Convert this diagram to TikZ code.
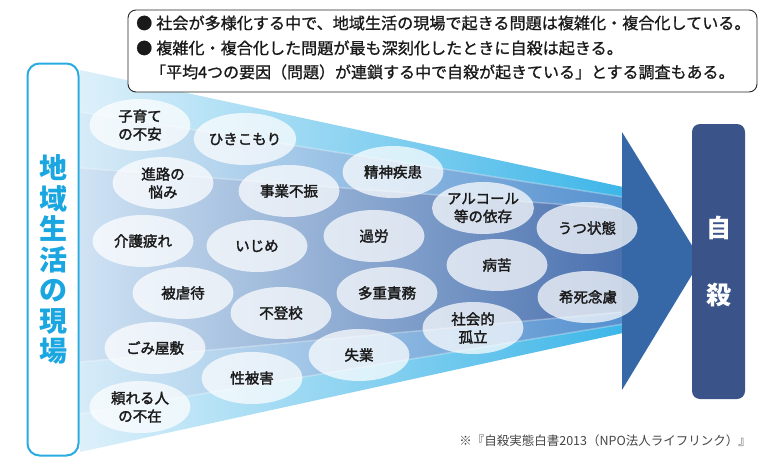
\documentclass[tikz,border=0pt]{standalone}
\usepackage{fontspec}
\setmainfont{Noto Sans CJK JP}
\newfontfamily\bubfont{Noto Sans CJK JP}[FakeBold=2]
\newfontfamily\notefont{Noto Sans CJK JP}[FakeBold=1]
\usetikzlibrary{shapes.geometric}
\definecolor{funL}{HTML}{DDF0FA}
\definecolor{funR}{HTML}{3DB6E8}
\definecolor{midL}{HTML}{D6ECF8}
\definecolor{midR}{HTML}{5590CF}
\definecolor{inL}{HTML}{CFE3F4}
\definecolor{inR}{HTML}{4A70AE}
\definecolor{arrowc}{HTML}{3668A8}
\definecolor{navy}{HTML}{3A548A}
\definecolor{cyanline}{HTML}{29ABE2}
\definecolor{cyantext}{HTML}{1AA6E0}
\definecolor{txt}{HTML}{1A1A1A}
\definecolor{foot}{HTML}{444444}
\begin{document}
\begin{tikzpicture}[x=1pt,y=-1pt,
  bub/.style={ellipse, fill=white, fill opacity=0.72, text opacity=1,
    minimum width=101pt, minimum height=52pt, inner sep=0pt, align=center,
    font=\bubfont\fontsize{14.5}{18}\selectfont, text=txt},
  notetext/.style={anchor=west, inner sep=0pt, font=\notefont\fontsize{16.1}{18}\selectfont, text=txt},
  pillbox/.style={draw=cyanline, line width=2pt, rounded corners=12pt, fill=white,
    minimum width=51pt, minimum height=392pt, inner sep=0pt, align=center,
    font=\fontsize{28}{30.5}\selectfont\bfseries, text=cyantext},
  endbox/.style={fill=navy, rounded corners=8pt, minimum width=53pt, minimum height=275pt,
    inner sep=0pt, align=center, font=\fontsize{25}{67}\selectfont\bfseries, text=white},
  streak/.style={white, opacity=0.3, line width=1.5pt}
]
\useasboundingbox (0,0) rectangle (769,458);
% funnel body
\shade[left color=funL, right color=funR] (80,70) -- (623,187) -- (623,333) -- (80,452) -- cycle;
\shade[left color=midL, right color=midR] (80,112) -- (623,197) -- (623,324) -- (80,414) -- cycle;
\shade[left color=inL, right color=inR] (80,168) -- (623,209) -- (623,312) -- (80,362) -- cycle;
\draw[streak] (80,112) -- (623,197);
\draw[streak] (80,414) -- (623,324);
\draw[streak] (80,168) -- (623,209);
\draw[streak] (80,362) -- (623,312);
% arrow head
\fill[arrowc] (622,132) -- (701,260) -- (622,390) -- cycle;
% left pill
\node[pillbox] (genba) at (53,259.5) {地\\域\\生\\活\\の\\現\\場};
% end box
\node[endbox] (jisatsu) at (718.5,261.5) {自\\殺};
% note box
\node[draw=black!85, line width=0.9pt, rounded corners=8pt, fill=white,
  minimum width=629pt, minimum height=82pt] (note) at (442.5,51) {};
\node[notetext] (l1) at (136,23) {●\hspace{4pt}社会が多様化する中で、地域生活の現場で起きる問題は複雑化・複合化している。};
\node[notetext] (l2) at (136,48) {●\hspace{4pt}複雑化・複合化した問題が最も深刻化したときに自殺は起きる。};
\node[notetext, font=\notefont\fontsize{16}{18}\selectfont] (l3) at (150,72) {「平均4つの要因（問題）が連鎖する中で自殺が起きている」とする調査もある。};
% bubbles
\node[bub] (b1) at (140,125) {子育て\\の不安};
\node[bub] (b2) at (245,139) {ひきこもり};
\node[bub] (b3) at (163,183) {進路の\\悩み};
\node[bub] (b4) at (289,191) {事業不振};
\node[bub] (b5) at (393,172) {精神疾患};
\node[bub] (b6) at (483,208) {アルコール\\等の依存};
\node[bub] (b7) at (587,228) {うつ状態};
\node[bub] (b8) at (143,241) {介護疲れ};
\node[bub] (b9) at (257,246) {いじめ};
\node[bub] (b10) at (374,236) {過労};
\node[bub] (b11) at (497,265) {病苦};
\node[bub] (b12) at (588,297) {希死念慮};
\node[bub] (b13) at (183,293) {被虐待};
\node[bub] (b14) at (281,313) {不登校};
\node[bub] (b15) at (387,293) {多重責務};
\node[bub] (b16) at (473,328) {社会的\\孤立};
\node[bub] (b17) at (155,348) {ごみ屋敷};
\node[bub] (b18) at (252,378) {性被害};
\node[bub] (b19) at (359,355) {失業};
\node[bub] (b20) at (140,407) {頼れる人\\の不在};
% footnote
\node[anchor=east, inner sep=0pt, font=\fontsize{12.5}{14}\selectfont, text=foot] (src) at (751,441) {※『自殺実態白書2013（NPO法人ライフリンク）』};
\end{tikzpicture}
\end{document}
